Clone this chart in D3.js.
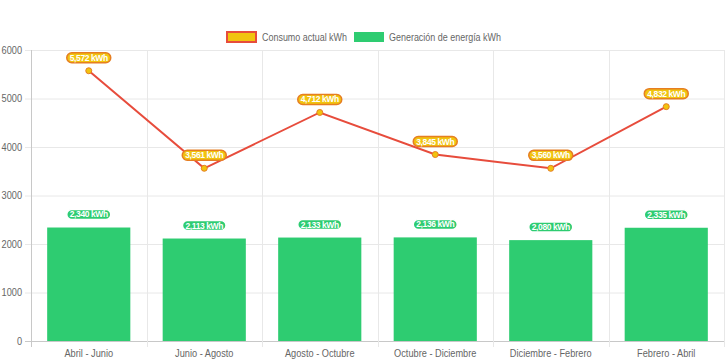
<!DOCTYPE html>
<html><head><meta charset="utf-8">
<script src="https://cdn.jsdelivr.net/npm/d3@7"></script>
<style>body{margin:0;background:#fff}svg{display:block;font-family:"Liberation Sans",Arial,sans-serif}</style>
</head><body><svg id="c" width="728" height="363"></svg>
<script>
const categories=["Abril - Junio","Junio - Agosto","Agosto - Octubre","Octubre - Diciembre","Diciembre - Febrero","Febrero - Abril"];
const consumo=[5572,3561,4712,3845,3560,4832];
const generacion=[2340,2113,2133,2136,2080,2335];
const yTicks=[0,1000,2000,3000,4000,5000,6000];
const seriesNames=["Consumo actual kWh","Generación de energía kWh"];

const svg=d3.select("#c");
const L=31,R=724,T=50,B=341;
const x=d3.scaleBand().domain(categories).range([L,R]).paddingInner(0).paddingOuter(0);
const y=d3.scaleLinear().domain([0,6000]).range([B,T]);
const fmt=d3.format(",");

// grid
const g=svg.append("g");
g.selectAll(".hg").data(yTicks).join("line").attr("x1",L-6).attr("x2",R).attr("y1",d=>y(d)+0.5).attr("y2",d=>y(d)+0.5).attr("stroke",d=>d===0?"#c8c8c8":"#e8e8e8");
const vx=categories.map(c=>x(c)).concat([R]);
g.selectAll(".vg").data(vx).join("line").attr("x1",d=>Math.round(d)+0.5).attr("x2",d=>Math.round(d)+0.5).attr("y1",T).attr("y2",B+6).attr("stroke",(d,i)=>i===0?"#c8c8c8":"#e8e8e8");

function squeeze(sel,ratio){sel.each(function(){const w=this.getComputedTextLength();d3.select(this).attr("textLength",w*ratio).attr("lengthAdjust","spacingAndGlyphs");});}

// axes labels
const yAxis=d3.axisLeft(y).tickValues(yTicks).tickSize(0).tickPadding(9).tickFormat(d=>d);
const ya=svg.append("g").attr("transform",`translate(${L},0)`).call(yAxis);
ya.select(".domain").remove();
ya.selectAll("text").attr("font-size",10).attr("fill","#666").attr("font-family","Liberation Sans,Arial");
squeeze(ya.selectAll("text"),0.92);
const xAxis=d3.axisBottom(x).tickSize(0).tickPadding(9);
const xa=svg.append("g").attr("transform",`translate(0,${B})`).call(xAxis);
xa.select(".domain").remove();
xa.selectAll("text").attr("font-size",10).attr("fill","#666").attr("font-family","Liberation Sans,Arial");
squeeze(xa.selectAll("text"),0.92);

// bars
const bw=x.bandwidth()*0.72;
svg.selectAll(".bar").data(generacion).join("rect")
 .attr("x",(d,i)=>x(categories[i])+(x.bandwidth()-bw)/2).attr("width",bw)
 .attr("y",d=>y(d)).attr("height",d=>B-y(d)).attr("fill","#2ecc71");

// line
const cx=(i)=>x(categories[i])+x.bandwidth()/2;
const line=d3.line().x((d,i)=>cx(i)).y(d=>y(d));
svg.append("path").datum(consumo).attr("d",line).attr("fill","none").attr("stroke","#e74c3c").attr("stroke-width",2);
svg.selectAll(".pt").data(consumo).join("circle").attr("cx",(d,i)=>cx(i)).attr("cy",d=>y(d)).attr("r",3).attr("fill","#f1c40f").attr("stroke","#e67e22").attr("stroke-width",1);

// labels
function labels(data,fill,stroke,off){
 const lg=svg.append("g");
 data.forEach((d,i)=>{
  const t=fmt(d)+" kWh";
  const gg=lg.append("g").attr("transform",`translate(${cx(i)},${y(d)-off})`);
  const tx=gg.append("text").text(t).attr("text-anchor","middle").attr("dy","0.35em").attr("font-size",8.5).attr("font-weight","bold").attr("fill","#fff").attr("letter-spacing","-0.4");
  const w=tx.node().getComputedTextLength()+6;
  gg.insert("rect","text").attr("x",-w/2).attr("y",-5).attr("width",w).attr("height",10).attr("rx",5).attr("fill",fill).attr("stroke",stroke).attr("stroke-width",1.5);
 });
}
labels(consumo,"#f1c40f","#e67e22",13);
labels(generacion,"#2ecc71","#ffffff",13);

// legend
const lg=svg.append("g");
lg.append("rect").attr("x",227).attr("y",32).attr("width",29).attr("height",10).attr("fill","#f1c40f").attr("stroke","#e74c3c").attr("stroke-width",2);
lg.append("text").attr("x",262).attr("y",37).attr("dy","0.35em").attr("font-size",10).attr("fill","#666").attr("textLength",85).attr("lengthAdjust","spacingAndGlyphs").text(seriesNames[0]);
lg.append("rect").attr("x",354).attr("y",32).attr("width",30).attr("height",10).attr("fill","#2ecc71");
lg.append("text").attr("x",389).attr("y",37).attr("dy","0.35em").attr("font-size",10).attr("fill","#666").attr("textLength",112).attr("lengthAdjust","spacingAndGlyphs").text(seriesNames[1]);
</script></body></html>
